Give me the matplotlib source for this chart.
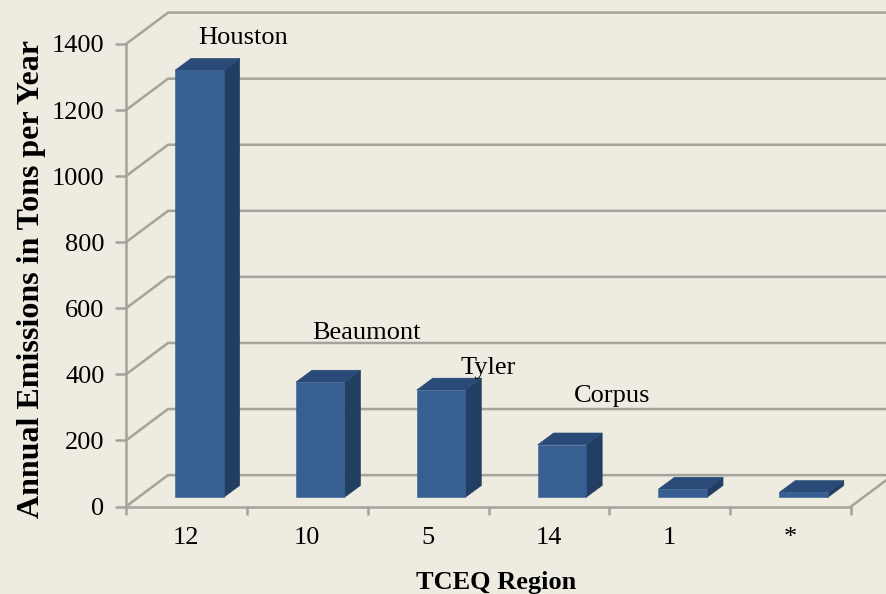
import matplotlib
matplotlib.use('Agg')
import matplotlib.pyplot as plt
from matplotlib.patches import Polygon

plt.rcParams['font.family'] = ['Liberation Serif', 'DejaVu Serif']

regions = ['12', '10', '5', '14', '1', '*']
emissions = [1293, 349, 325, 159, 25, 15]
y_ticks = [0, 200, 400, 600, 800, 1000, 1200, 1400]
city_names = ['Houston', 'Beaumont', 'Tyler', 'Corpus']
city_x = [0.97, 1.99, 3.0, 4.02]
city_y = [1417, 525, 419, 334]

BG = '#EEECE1'
GRID = '#A5A39A'
FRONT = '#375F92'
TOP = '#2A4A78'
SIDE = '#223F63'

# depth of the fake 3d box in data units
DEPTH_X = 0.348
DEPTH_Y = 95
BAR_W = 0.402


def draw_bar(ax, i, value):
    x0 = i + 0.406
    x1 = x0 + BAR_W
    y0 = 0.29 * DEPTH_Y
    y1 = y0 + value
    dx = 0.133
    dy = 36
    ax.add_patch(Polygon([(x1, y0), (x1 + dx, y0 + dy), (x1 + dx, y1 + dy), (x1, y1)], fc=SIDE, ec=SIDE, lw=0.4, zorder=3, clip_on=False))
    ax.add_patch(Polygon([(x0, y1), (x1, y1), (x1 + dx, y1 + dy), (x0 + dx, y1 + dy)], fc=TOP, ec=TOP, lw=0.4, zorder=3, clip_on=False))
    ax.add_patch(Polygon([(x0, y0), (x1, y0), (x1, y1), (x0, y1)], fc=FRONT, ec=FRONT, lw=0.4, zorder=3, clip_on=False))


fig = plt.figure(figsize=(8.86, 5.94), dpi=100, facecolor=BG)
ax = fig.add_axes([126 / 886, 1 - 506.5 / 594, 725 / 886, 462.5 / 594], facecolor='none')
ax.set_xlim(0, 6)
ax.set_ylim(0, 1400)

# back wall lines + diagonals on the left
for t in y_ticks:
    ax.plot([0, DEPTH_X, 6 + DEPTH_X], [t, t + DEPTH_Y, t + DEPTH_Y], color=GRID, lw=1.8, clip_on=False, zorder=1,
            solid_joinstyle='miter')
ax.plot([6, 6 + DEPTH_X], [0, DEPTH_Y], color=GRID, lw=1.8, clip_on=False, zorder=1)

for i, v in enumerate(emissions):
    draw_bar(ax, i, v)

for s in ['top', 'right']:
    ax.spines[s].set_visible(False)
for s in ['left', 'bottom']:
    ax.spines[s].set_color(GRID)
    ax.spines[s].set_linewidth(1.8)
    ax.spines[s].set_zorder(2)

ax.set_yticks(y_ticks)
ax.set_xticks(range(7))
ax.set_xticklabels([])
ax.set_xticks([i + 0.5 for i in range(6)], minor=True)
ax.set_xticklabels(regions, minor=True)
ax.tick_params(axis='y', color=GRID, width=1.8, length=8, labelsize=19, pad=7.5)
ax.tick_params(axis='x', which='major', color=GRID, width=1.8, length=6)
ax.tick_params(axis='x', which='minor', length=0, labelsize=19, pad=15)

for name, x, y in zip(city_names, city_x, city_y):
    ax.text(x, y, name, ha='center', va='center', fontsize=19, zorder=4)

fig.text(32 / 886, 1 - 279 / 594, 'Annual Emissions in Tons per Year', rotation=90, ha='center', va='center',
         fontsize=23, fontweight='bold')
fig.text(496 / 886, 1 - 582 / 594, 'TCEQ Region', ha='center', va='center', fontsize=19, fontweight='bold')

fig.savefig('out.png', dpi=100, facecolor=BG)
